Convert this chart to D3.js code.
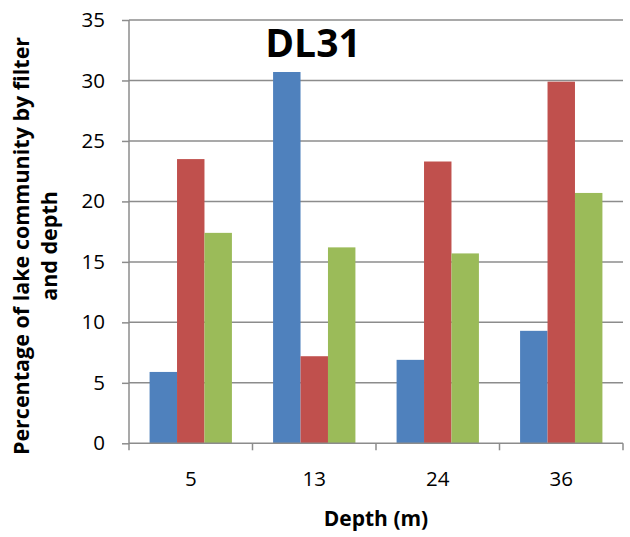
<!DOCTYPE html>
<html>
<head>
<meta charset="utf-8">
<script src="https://cdn.jsdelivr.net/npm/d3@7"></script>
<style>
  html, body { margin: 0; padding: 0; background: #fff; }
  svg { display: block; font-family: "Open Sans", "Liberation Sans", sans-serif; }
</style>
</head>
<body>
<svg id="chart" width="630" height="537"></svg>
<script>
// Sampling depths (m) at station DL31
const depths = ["5", "13", "24", "36"];
// Percentage of lake community for each filter, per depth
const filterA = [5.9, 30.7, 6.9, 9.3];
const filterB = [23.5, 7.2, 23.3, 29.9];
const filterC = [17.4, 16.2, 15.7, 20.7];
const seriesColors = ["#4f81bd", "#c0504d", "#9bbb59"];
const yTicks = [0, 5, 10, 15, 20, 25, 30, 35];

const series = [filterA, filterB, filterC];

const svg = d3.select("#chart");
const margin = { left: 129, top: 20, right: 7, bottom: 93.7 };
const W = 630, H = 537;
const innerW = W - margin.left - margin.right;
const innerH = H - margin.top - margin.bottom;

const g = svg.append("g").attr("transform", `translate(${margin.left},${margin.top})`);

const x0 = d3.scaleBand().domain(depths).range([0, innerW]).paddingInner(0).paddingOuter(0);
// gap between clusters = 1.5 bar widths
const groupPad = 1.5 / 4.5;
const x1 = d3.scaleBand().domain([0, 1, 2])
  .range([x0.bandwidth() * groupPad / 2, x0.bandwidth() * (1 - groupPad / 2)]);
const y = d3.scaleLinear().domain([0, 35]).range([innerH, 0]);

const gridColor = "#8c8c8c";

// horizontal gridlines
g.append("g").selectAll("line").data(yTicks.filter(d => d > 0)).join("line")
  .attr("x1", 0).attr("x2", innerW)
  .attr("y1", d => y(d)).attr("y2", d => y(d))
  .attr("stroke", gridColor).attr("stroke-width", 1.5);

// bars
depths.forEach((dep, i) => {
  const grp = g.append("g").attr("transform", `translate(${x0(dep)},0)`);
  grp.selectAll("rect").data(series.map((s, k) => ({ k, v: s[i] }))).join("rect")
    .attr("x", d => x1(d.k))
    .attr("width", x1.bandwidth())
    .attr("y", d => y(d.v))
    .attr("height", d => innerH - y(d.v))
    .attr("fill", d => seriesColors[d.k]);
});

// y axis
const yAxis = d3.axisLeft(y).tickValues(yTicks).tickSize(7).tickPadding(17).tickFormat(d3.format("d"));
const ya = g.append("g").call(yAxis);
ya.select(".domain").attr("stroke", gridColor).attr("stroke-width", 1.5).attr("d", `M0,${innerH}V0`);
ya.selectAll(".tick line").attr("stroke", gridColor).attr("stroke-width", 1.5);
ya.selectAll(".tick text").attr("font-size", 20.5).attr("fill", "#000")
  .attr("font-family", "'Open Sans', sans-serif");

// x axis
const xa = g.append("g").attr("transform", `translate(0,${innerH})`);
xa.append("line").attr("x1", 0).attr("x2", innerW).attr("y1", 0).attr("y2", 0)
  .attr("stroke", gridColor).attr("stroke-width", 1.5);
const edges = depths.map(d => x0(d)).concat([innerW]);
xa.selectAll("line.edge").data(edges).join("line").attr("class", "edge")
  .attr("x1", d => d).attr("x2", d => d).attr("y1", 0).attr("y2", 7)
  .attr("stroke", gridColor).attr("stroke-width", 1.5);
xa.selectAll("text").data(depths).join("text")
  .attr("x", d => x0(d) + x0.bandwidth() / 2)
  .attr("y", 43)
  .attr("text-anchor", "middle")
  .attr("font-size", 20.5)
  .attr("fill", "#000")
  .text(d => d);

// axis titles
svg.append("text")
  .attr("x", margin.left + innerW / 2)
  .attr("y", 526)
  .attr("text-anchor", "middle")
  .attr("font-size", 21).attr("font-weight", "bold")
  .text("Depth (m)");

const yt = svg.append("text")
  .attr("transform", "translate(0,246) rotate(-90)")
  .attr("text-anchor", "middle")
  .attr("font-size", 21.5).attr("font-weight", "bold");
yt.append("tspan").attr("x", 0).attr("y", 29).text("Percentage of lake community by filter");
yt.append("tspan").attr("x", 0).attr("y", 57).text("and depth");

// chart title
svg.append("text")
  .attr("x", 313).attr("y", 57)
  .attr("text-anchor", "middle")
  .attr("font-size", 39).attr("font-weight", "bold")
  .text("DL31");
</script>
</body>
</html>
